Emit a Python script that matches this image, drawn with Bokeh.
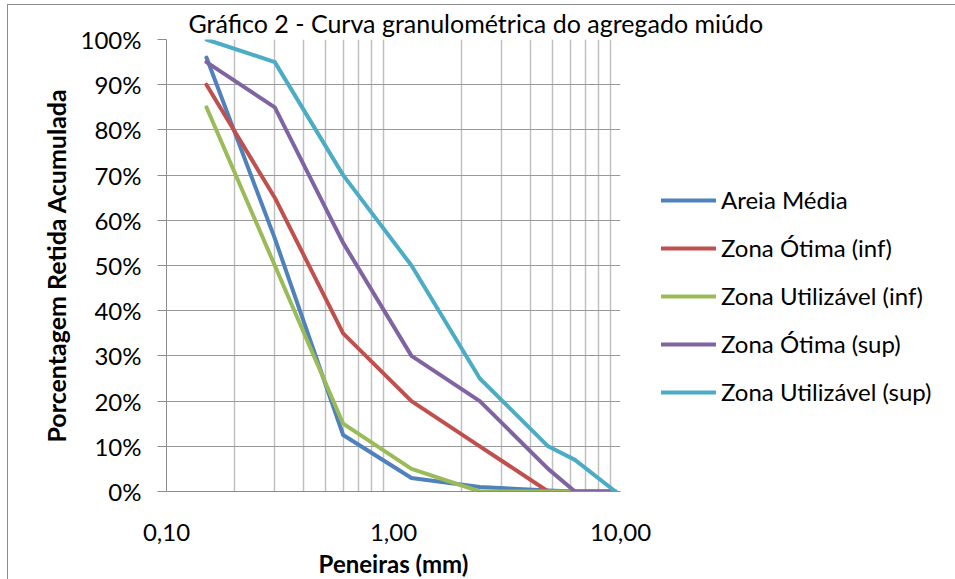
from bokeh.plotting import figure
from bokeh.models import (FixedTicker, CustomJSTickFormatter, Legend, LegendItem,
                          Range1d, Title)
from bokeh.embed import file_html
from bokeh.resources import INLINE

# ---- data ----
sieves = [0.15, 0.3, 0.6, 1.2, 2.4, 4.8, 6.3, 9.5]
areia_media = [96, 56, 12.5, 3, 1, 0.2, 0, 0]
otima_inf = [90, 65, 35, 20, 10, 0, 0, 0]
util_inf = [85, 50, 15, 5, 0, 0, 0, 0]
otima_sup = [95, 85, 55, 30, 20, 5, 0, 0]
util_sup = [100, 95, 70, 50, 25, 10, 7, 0]

series_names = ["Areia Média", "Zona Ótima (inf)", "Zona Utilizável (inf)",
                "Zona Ótima (sup)", "Zona Utilizável (sup)"]
series_values = [areia_media, otima_inf, util_inf, otima_sup, util_sup]
series_colors = ["#4F81BD", "#C0504D", "#9BBB59", "#8064A2", "#4BACC6"]

x_major = [0.1, 1, 10]
x_minor = [0.2, 0.3, 0.4, 0.5, 0.6, 0.7, 0.8, 0.9, 2, 3, 4, 5, 6, 7, 8, 9]
y_ticks = [0, 10, 20, 30, 40, 50, 60, 70, 80, 90, 100]

title_text = "Gráfico 2 - Curva granulométrica do agregado miúdo"
x_title = "Peneiras (mm)"
y_title = "Porcentagem Retida Acumulada"

FONT = "Lato"
TICK_FS = "24px"
TITLE_FS = "24px"

p = figure(frame_width=454, frame_height=452, x_axis_type="log",
           x_range=Range1d(0.1, 10), y_range=Range1d(0, 100),
           output_backend="svg", toolbar_location=None,
           min_border_left=158, min_border_right=327,
           min_border_top=34, min_border_bottom=88)
p.styles = {"margin-left": "7px", "margin-top": "4px",
            "border-left": "1px solid #8c8c8c", "border-top": "1px solid #8c8c8c"}
p.outline_line_color = None
p.background_fill_color = "white"
p.border_fill_color = "white"

# title
p.title = Title(text=title_text, align="left", offset=22, standoff=0,
                vertical_align="top",
                text_font=FONT, text_font_size="25px", text_font_style="normal",
                text_color="black")

# x axis
p.xaxis.ticker = FixedTicker(ticks=x_major, minor_ticks=x_minor)
p.xaxis.formatter = CustomJSTickFormatter(code="return tick.toFixed(2).replace('.', ',');")
p.xaxis.axis_line_color = "#8c8c8c"
p.xaxis.major_tick_line_color = None
p.xaxis.minor_tick_line_color = None
p.xaxis.major_tick_out = 0
p.xaxis.major_label_standoff = 28
p.xaxis.major_label_text_font = FONT
p.xaxis.major_label_text_font_size = TICK_FS
p.xaxis.major_label_text_color = "black"
p.xaxis.axis_label = x_title
p.xaxis.axis_label_text_font = FONT
p.xaxis.axis_label_text_font_size = TITLE_FS
p.xaxis.axis_label_text_font_style = "bold"
p.xaxis.axis_label_text_color = "black"
p.xaxis.axis_label_standoff = 5

# y axis
p.yaxis.ticker = FixedTicker(ticks=y_ticks)
p.yaxis.formatter = CustomJSTickFormatter(code="return tick.toFixed(0) + '%';")
p.yaxis.axis_line_color = "#8c8c8c"
p.yaxis.major_tick_line_color = "#8c8c8c"
p.yaxis.major_tick_out = 9
p.yaxis.major_tick_in = 0
p.yaxis.minor_tick_line_color = None
p.yaxis.major_label_standoff = 16
p.yaxis.major_label_text_font = FONT
p.yaxis.major_label_text_font_size = TICK_FS
p.yaxis.major_label_text_color = "black"
p.yaxis.axis_label = y_title
p.yaxis.axis_label_text_font = FONT
p.yaxis.axis_label_text_font_size = "25px"
p.yaxis.axis_label_text_font_style = "bold"
p.yaxis.axis_label_text_color = "black"
p.yaxis.axis_label_standoff = 7

# grids
p.xgrid.grid_line_color = None
p.xgrid.minor_grid_line_color = "#c0c0c0"
p.xgrid.minor_grid_line_width = 1.5
p.ygrid.grid_line_color = "#999999"
p.ygrid.grid_line_width = 1.2

items = []
for name, vals, col in zip(series_names, series_values, series_colors):
    r = p.line(sieves, vals, line_color=col, line_width=4,
               line_join="round", line_cap="round")
    items.append(LegendItem(label=name, renderers=[r]))

legend = Legend(items=items, location=(41, 85))
legend.border_line_color = None
legend.background_fill_alpha = 0
legend.padding = 0
legend.margin = 0
legend.spacing = 19
legend.glyph_width = 55
legend.glyph_height = 24
legend.label_height = 24
legend.label_standoff = 5
legend.label_text_font = FONT
legend.label_text_font_size = TICK_FS
legend.label_text_color = "black"
p.add_layout(legend, "right")

open("out.html", "w").write(file_html(p, INLINE))
